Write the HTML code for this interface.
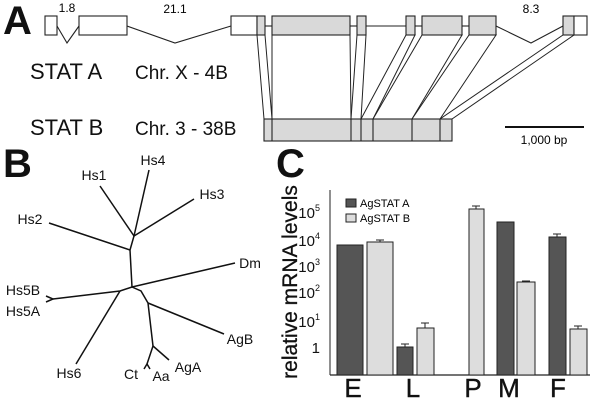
<!DOCTYPE html>
<html><head><meta charset="utf-8"><style>
html,body{margin:0;padding:0;background:#fff;}
svg{display:block;font-family:"Liberation Sans",Arial,sans-serif;}
</style></head><body>
<svg width="602" height="401" viewBox="0 0 602 401" xmlns="http://www.w3.org/2000/svg">
<!-- Panel A -->
<text x="3" y="34" font-size="40" font-weight="bold" fill="#111">A</text>
<text x="67" y="12" font-size="12" text-anchor="middle">1.8</text>
<text x="175" y="13" font-size="12" text-anchor="middle">21.1</text>
<text x="531" y="13" font-size="12" text-anchor="middle">8.3</text>
<g fill="none" stroke="#222" stroke-width="1.1">
<polyline points="57,26 67,43 79,26"/>
<polyline points="127,26 175,43 231,26"/>
<line x1="265" y1="26" x2="272" y2="26"/>
<line x1="350" y1="26" x2="357" y2="26"/>
<line x1="366" y1="26" x2="406" y2="26"/>
<line x1="415" y1="26" x2="422" y2="26"/>
<line x1="462" y1="26" x2="469" y2="26"/>
<polyline points="496,26 531,43 563,26"/>
</g>
<g fill="#fff" stroke="#222" stroke-width="1">
<polygon points="257,35 265,35 272,119 264,119"/>
<polygon points="272,35 350,35 351,119 272,119"/>
<polygon points="357,35 366,35 361,119 351,119"/>
<polygon points="406,35 415,35 373,119 361,119"/>
<polygon points="422,35 462,35 412,119 373,119"/>
<polygon points="469,35 496,35 440,119 412,119"/>
<polygon points="563,35 574,35 452,119 440,119"/>
</g>
<g stroke="#222" stroke-width="1.1">
<rect x="45" y="16" width="12" height="19" fill="#fff"/>
<rect x="79" y="16" width="48" height="19" fill="#fff"/>
<rect x="231" y="16" width="26" height="19" fill="#fff"/>
<rect x="257" y="16" width="8" height="19" fill="#d9d9d9"/>
<rect x="272" y="16" width="78" height="19" fill="#d9d9d9"/>
<rect x="357" y="16" width="9" height="19" fill="#d9d9d9"/>
<rect x="406" y="16" width="9" height="19" fill="#d9d9d9"/>
<rect x="422" y="16" width="40" height="19" fill="#d9d9d9"/>
<rect x="469" y="16" width="27" height="19" fill="#d9d9d9"/>
<rect x="563" y="16" width="11" height="19" fill="#d9d9d9"/>
<rect x="574" y="16" width="13" height="19" fill="#fff"/>
<rect x="264" y="119" width="188" height="22" fill="#d9d9d9"/>
<line x1="272" y1="119" x2="272" y2="141"/>
<line x1="351" y1="119" x2="351" y2="141"/>
<line x1="361" y1="119" x2="361" y2="141"/>
<line x1="373" y1="119" x2="373" y2="141"/>
<line x1="412" y1="119" x2="412" y2="141"/>
<line x1="440" y1="119" x2="440" y2="141"/>
</g>
<text x="30" y="79" font-size="22" fill="#111">STAT A</text>
<text x="135" y="79" font-size="19" fill="#111">Chr. X - 4B</text>
<text x="30" y="135" font-size="22" fill="#111">STAT B</text>
<text x="135" y="135" font-size="19" fill="#111">Chr. 3 - 38B</text>
<line x1="505" y1="127" x2="584" y2="127" stroke="#111" stroke-width="2"/>
<text x="544" y="144" font-size="12" text-anchor="middle">1,000 bp</text>

<!-- Panel B -->
<text x="3" y="177" font-size="40" font-weight="bold" fill="#111">B</text>
<g fill="none" stroke="#111" stroke-width="1.5">
<polyline points="149,170 134,236 130,250 132,287"/>
<line x1="100" y1="186" x2="134" y2="236"/>
<line x1="194" y1="199" x2="134" y2="236"/>
<line x1="49" y1="223" x2="130" y2="250"/>
<line x1="132" y1="287" x2="235" y2="263"/>
<polyline points="132,287 120,291 53,299"/>
<polyline points="46,296 53,299 46,302"/>
<line x1="120" y1="291" x2="76" y2="364"/>
<polyline points="132,287 141,291 148,303 153,346"/>
<line x1="148" y1="303" x2="224" y2="334"/>
<line x1="153" y1="346" x2="169" y2="360"/>
<polyline points="153,346 147,364"/>
<polyline points="144,369 147,364 150,369"/>
</g>
<g font-size="14" fill="#111" text-anchor="middle">
<text x="153" y="165">Hs4</text>
<text x="94" y="180">Hs1</text>
<text x="212" y="199">Hs3</text>
<text x="30" y="224">Hs2</text>
<text x="250" y="268">Dm</text>
<text x="23" y="295">Hs5B</text>
<text x="23" y="316">Hs5A</text>
<text x="240" y="344">AgB</text>
<text x="188" y="372">AgA</text>
<text x="69" y="378">Hs6</text>
<text x="131" y="379">Ct</text>
<text x="161" y="381">Aa</text>
</g>

<!-- Panel C -->
<text x="276" y="177" font-size="40" font-weight="bold" fill="#111">C</text>
<text transform="translate(297,282) rotate(-90)" font-size="21" text-anchor="middle" fill="#111" stroke="#111" stroke-width="0.3">relative mRNA levels</text>
<line x1="330" y1="190" x2="330" y2="375" stroke="#222" stroke-width="1"/>
<line x1="330" y1="375" x2="590" y2="375" stroke="#222" stroke-width="1.2"/>
<g font-size="15" fill="#111" text-anchor="end">
<text x="320" y="218">10<tspan font-size="9" dy="-7">5</tspan></text>
<text x="320" y="246">10<tspan font-size="9" dy="-7">4</tspan></text>
<text x="320" y="272">10<tspan font-size="9" dy="-7">3</tspan></text>
<text x="320" y="298">10<tspan font-size="9" dy="-7">2</tspan></text>
<text x="320" y="327">10<tspan font-size="9" dy="-7">1</tspan></text>
<text x="320" y="353">1</text>
</g>
<rect x="346" y="199" width="10" height="8" fill="#555" stroke="#222"/>
<text x="360" y="207" font-size="11">AgSTAT A</text>
<rect x="346" y="214" width="10" height="8" fill="#ddd" stroke="#222"/>
<text x="360" y="222" font-size="11">AgSTAT B</text>
<g stroke="#222" stroke-width="1">
<rect x="337" y="245" width="26" height="130" fill="#555"/>
<rect x="367" y="242" width="26" height="133" fill="#ddd"/>
<rect x="397" y="347" width="16" height="28" fill="#555"/>
<rect x="417" y="328" width="17" height="47" fill="#ddd"/>
<rect x="469" y="209" width="15" height="166" fill="#ddd"/>
<rect x="497" y="222" width="17" height="153" fill="#555"/>
<rect x="517" y="282" width="18" height="93" fill="#ddd"/>
<rect x="549" y="237" width="17" height="138" fill="#555"/>
<rect x="570" y="329" width="17" height="46" fill="#ddd"/>
</g>
<g stroke="#222" stroke-width="1" fill="none">
<path d="M380 242v-2M376 240h8"/>
<path d="M405 347v-3M401 344h8"/>
<path d="M425 328v-5M421 323h8"/>
<path d="M476 209v-3M472 206h8"/>
<path d="M526 282v-1M522 281h8"/>
<path d="M557 237v-3M553 234h8"/>
<path d="M578 329v-3M574 326h8"/>
</g>
<g font-size="26" fill="#111" text-anchor="middle" stroke="#111" stroke-width="0.4">
<text x="353" y="397">E</text>
<text x="413" y="397">L</text>
<text x="473" y="397">P</text>
<text x="509" y="397">M</text>
<text x="558" y="397">F</text>
</g>
</svg>
</body></html>
